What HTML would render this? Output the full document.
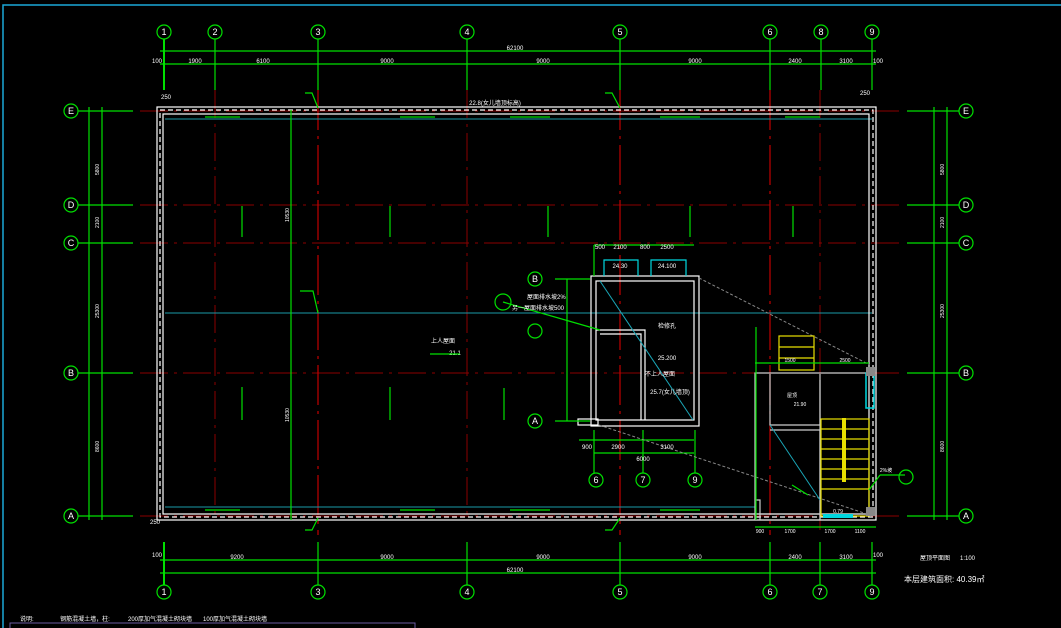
<!DOCTYPE html>
<html><head><meta charset="utf-8"><style>
html,body{margin:0;padding:0;background:#000;width:1061px;height:628px;overflow:hidden}
svg{display:block}
text{font-family:"Liberation Sans","Noto Sans CJK SC",sans-serif;fill:#fff}
</style></head><body>
<svg width="1061" height="628" viewBox="0 0 1061 628" xmlns="http://www.w3.org/2000/svg">
<rect x="0" y="0" width="1061" height="628" fill="#000"/>
<!-- frame -->
<polyline points="3,628 3,5 1061,5" fill="none" stroke="#1aa7d8" stroke-width="1.5"/>
<rect x="10" y="623" width="405" height="8" fill="none" stroke="#6a5aa0" stroke-width="1"/>

<!-- red axis dash lines -->
<g stroke="#8b0000" stroke-width="1" stroke-dasharray="28,6,3,6" fill="none">
<line x1="140" y1="205" x2="900" y2="205"/>
<line x1="140" y1="243" x2="900" y2="243"/>
<line x1="140" y1="373" x2="900" y2="373"/>
<line x1="140" y1="111" x2="900" y2="111"/>
<line x1="140" y1="516" x2="900" y2="516"/>
<line x1="215" y1="90" x2="215" y2="520"/>
<line x1="467" y1="90" x2="467" y2="520"/>
<line x1="820" y1="90" x2="820" y2="530"/>
</g>
<g stroke="#c00000" stroke-width="1.2" stroke-dasharray="40,6,3,6" fill="none">
<line x1="318" y1="90" x2="318" y2="535"/>
<line x1="620" y1="90" x2="620" y2="535"/>
<line x1="770" y1="90" x2="770" y2="535"/>
</g>
<line x1="165" y1="313" x2="872" y2="313" stroke="#1a9aa8" stroke-width="1"/>
<line x1="165" y1="119" x2="872" y2="119" stroke="#1a9aa8" stroke-width="1"/>
<line x1="165" y1="507" x2="755" y2="507" stroke="#1a9aa8" stroke-width="1"/>

<!-- building walls -->
<g fill="none" stroke="#fff" stroke-width="1.2">
<rect x="157" y="107" width="719" height="413"/>
<rect x="163" y="114" width="706" height="400"/>
<rect x="160" y="110" width="713" height="407" stroke-dasharray="5,3"/>
</g>

<!-- green dimension system -->
<g stroke="#00e000" stroke-width="1.2" fill="none">
<line x1="160" y1="51" x2="876" y2="51"/>
<line x1="160" y1="64" x2="876" y2="64"/>
<line x1="160" y1="560" x2="876" y2="560"/>
<line x1="160" y1="573" x2="876" y2="573"/>
<line x1="89" y1="107" x2="89" y2="520"/>
<line x1="102" y1="107" x2="102" y2="520"/>
<line x1="934" y1="107" x2="934" y2="520"/>
<line x1="947" y1="107" x2="947" y2="520"/>
<line x1="291" y1="110" x2="291" y2="520"/>
<!-- column axis stubs top -->
<line x1="164" y1="39" x2="164" y2="90" stroke-width="2"/>
<line x1="215" y1="39" x2="215" y2="90"/>
<line x1="318" y1="39" x2="318" y2="90"/>
<line x1="467" y1="39" x2="467" y2="90"/>
<line x1="620" y1="39" x2="620" y2="90"/>
<line x1="770" y1="39" x2="770" y2="90"/>
<line x1="821" y1="39" x2="821" y2="90"/>
<line x1="872" y1="39" x2="872" y2="90"/>
<!-- bottom -->
<line x1="164" y1="542" x2="164" y2="585" stroke-width="2"/>
<line x1="318" y1="542" x2="318" y2="585"/>
<line x1="467" y1="542" x2="467" y2="585"/>
<line x1="620" y1="542" x2="620" y2="585"/>
<line x1="770" y1="542" x2="770" y2="585"/>
<line x1="820" y1="542" x2="820" y2="585"/>
<line x1="872" y1="542" x2="872" y2="585"/>
<!-- row stubs left/right -->
<line x1="78" y1="111" x2="133" y2="111"/><line x1="78" y1="205" x2="133" y2="205"/>
<line x1="78" y1="243" x2="133" y2="243"/><line x1="78" y1="373" x2="133" y2="373"/>
<line x1="78" y1="516" x2="133" y2="516"/>
<line x1="907" y1="111" x2="959" y2="111"/><line x1="907" y1="205" x2="959" y2="205"/>
<line x1="907" y1="243" x2="959" y2="243"/><line x1="907" y1="373" x2="959" y2="373"/>
<line x1="907" y1="516" x2="959" y2="516"/>
</g>
<!-- bubbles -->
<g fill="#000" stroke="#00e000" stroke-width="1.2">
<circle cx="164" cy="32" r="7"/><circle cx="215" cy="32" r="7"/><circle cx="318" cy="32" r="7"/>
<circle cx="467" cy="32" r="7"/><circle cx="620" cy="32" r="7"/><circle cx="770" cy="32" r="7"/>
<circle cx="821" cy="32" r="7"/><circle cx="872" cy="32" r="7"/>
<circle cx="164" cy="592" r="7"/><circle cx="318" cy="592" r="7"/><circle cx="467" cy="592" r="7"/>
<circle cx="620" cy="592" r="7"/><circle cx="770" cy="592" r="7"/><circle cx="820" cy="592" r="7"/><circle cx="872" cy="592" r="7"/>
<circle cx="71" cy="111" r="7"/><circle cx="71" cy="205" r="7"/><circle cx="71" cy="243" r="7"/>
<circle cx="71" cy="373" r="7"/><circle cx="71" cy="516" r="7"/>
<circle cx="966" cy="111" r="7"/><circle cx="966" cy="205" r="7"/><circle cx="966" cy="243" r="7"/>
<circle cx="966" cy="373" r="7"/><circle cx="966" cy="516" r="7"/>
<circle cx="535" cy="279" r="7"/><circle cx="535" cy="421" r="7"/><circle cx="535" cy="331" r="7"/>
<circle cx="596" cy="480" r="7"/><circle cx="643" cy="480" r="7"/><circle cx="695" cy="480" r="7"/>
<circle cx="503" cy="302" r="8"/><circle cx="906" cy="477" r="7"/>
</g>
<g font-size="9" text-anchor="middle">
<text x="164" y="35">1</text><text x="215" y="35">2</text><text x="318" y="35">3</text><text x="467" y="35">4</text>
<text x="620" y="35">5</text><text x="770" y="35">6</text><text x="821" y="35">8</text><text x="872" y="35">9</text>
<text x="164" y="595">1</text><text x="318" y="595">3</text><text x="467" y="595">4</text><text x="620" y="595">5</text>
<text x="770" y="595">6</text><text x="820" y="595">7</text><text x="872" y="595">9</text>
<text x="71" y="114">E</text><text x="71" y="208">D</text><text x="71" y="246">C</text><text x="71" y="376">B</text><text x="71" y="519">A</text>
<text x="966" y="114">E</text><text x="966" y="208">D</text><text x="966" y="246">C</text><text x="966" y="376">B</text><text x="966" y="519">A</text>
<text x="535" y="282">B</text><text x="535" y="424">A</text>
<text x="596" y="483">6</text><text x="643" y="483">7</text><text x="695" y="483">9</text>
</g>
<g font-size="6" text-anchor="middle">
<text x="515" y="50">62100</text><text x="195" y="63">1900</text><text x="263" y="63">6100</text><text x="387" y="63">9000</text>
<text x="543" y="63">9000</text><text x="695" y="63">9000</text><text x="795" y="63">2400</text><text x="846" y="63">3100</text>
<text x="237" y="559">9200</text><text x="387" y="559">9000</text><text x="543" y="559">9000</text><text x="695" y="559">9000</text>
<text x="795" y="559">2400</text><text x="846" y="559">3100</text><text x="515" y="572">62100</text>
<text x="157" y="63">100</text><text x="157" y="557">100</text><text x="878" y="63">100</text><text x="878" y="557">100</text>
<text x="495" y="105">22.8(女儿墙顶标高)</text>
<text x="155" y="524">250</text><text x="166" y="99">250</text><text x="865" y="95">250</text>
<text x="443" y="343">上人屋面</text><text x="455" y="355">21.1</text>
<text x="920" y="560" text-anchor="start">屋顶平面图</text><text x="960" y="560" text-anchor="start">1:100</text>
<text x="904" y="582" text-anchor="start" font-size="8">本层建筑面积: 40.39㎡</text>
<text x="20" y="621" text-anchor="start">说明:</text><text x="85" y="621">钢筋混凝土墙，柱:</text>
<text x="160" y="621">200厚加气混凝土砌块墙</text><text x="235" y="621">100厚加气混凝土砌块墙</text>
</g>
<g font-size="5" fill="#fff">
<text x="99" y="175" transform="rotate(-90 99 175)">5800</text>
<text x="99" y="228" transform="rotate(-90 99 228)">2100</text>
<text x="99" y="318" transform="rotate(-90 99 318)">25300</text>
<text x="99" y="308" transform="rotate(-90 99 308)"></text>
<text x="944" y="175" transform="rotate(-90 944 175)">5800</text>
<text x="944" y="228" transform="rotate(-90 944 228)">2100</text>
<text x="944" y="318" transform="rotate(-90 944 318)">25300</text>
<text x="99" y="452" transform="rotate(-90 99 452)">8600</text>
<text x="944" y="452" transform="rotate(-90 944 452)">8600</text>
<text x="289" y="222" transform="rotate(-90 289 222)">10530</text>
<text x="289" y="422" transform="rotate(-90 289 422)">10530</text>
</g>

<!-- small green drainage markers -->
<g stroke="#00e000" stroke-width="1.2" fill="none">
<line x1="242" y1="206" x2="242" y2="237"/><line x1="390" y1="206" x2="390" y2="237"/>
<line x1="548" y1="206" x2="548" y2="237"/><line x1="690" y1="206" x2="690" y2="237"/><line x1="793" y1="206" x2="793" y2="237"/>
<line x1="242" y1="387" x2="242" y2="420"/><line x1="390" y1="387" x2="390" y2="420"/><line x1="504" y1="388" x2="504" y2="420"/>
<line x1="205" y1="117" x2="240" y2="117"/><line x1="400" y1="117" x2="435" y2="117"/><line x1="510" y1="117" x2="550" y2="117"/>
<line x1="660" y1="117" x2="700" y2="117"/><line x1="785" y1="117" x2="820" y2="117"/>
<line x1="205" y1="510" x2="240" y2="510"/><line x1="400" y1="510" x2="435" y2="510"/><line x1="510" y1="510" x2="550" y2="510"/>
<line x1="660" y1="510" x2="700" y2="510"/>
<polyline points="300,291 313,291 318,313"/>
<polyline points="305,93 312,93 318,108"/><polyline points="605,93 612,93 620,108"/>
<polyline points="305,530 312,530 318,518"/><polyline points="605,530 612,530 620,518"/>
<line x1="430" y1="354" x2="460" y2="354"/>
</g>

<!-- stair / roof room middle -->
<g fill="none" stroke="#fff" stroke-width="1.2">
<rect x="591" y="276" width="108" height="150"/>
<rect x="596" y="281" width="98" height="139"/>
<polyline points="596,330 645,330 645,420"/>
<polyline points="600,334 641,334 641,420"/>
<rect x="578" y="419" width="20" height="6"/>
</g>
<line x1="600" y1="281" x2="693" y2="420" stroke="#1aa7b8" stroke-width="1"/>
<g stroke="#00e000" stroke-width="1.2" fill="none">
<line x1="594" y1="245" x2="694" y2="245"/><line x1="594" y1="245" x2="594" y2="276"/>
<line x1="590" y1="279" x2="555" y2="279"/><line x1="555" y1="421" x2="590" y2="421"/>
<line x1="567" y1="279" x2="567" y2="421"/>
<line x1="579" y1="440" x2="694" y2="440"/><line x1="594" y1="453" x2="694" y2="453"/>
<line x1="594" y1="430" x2="594" y2="473"/><line x1="643" y1="430" x2="643" y2="473"/><line x1="695" y1="430" x2="695" y2="473"/>
<line x1="503" y1="302" x2="600" y2="330"/>
</g>
<g stroke="#00d8e0" stroke-width="1.2" fill="none">
<polyline points="604,276 604,260 638,260 638,276"/><polyline points="651,276 651,260 686,260 686,276"/>
</g>
<g stroke="#888" stroke-width="1" stroke-dasharray="3,2" fill="none">
<line x1="699" y1="278" x2="870" y2="365"/><line x1="599" y1="425" x2="870" y2="515"/>
</g>
<g font-size="6" text-anchor="middle">
<text x="600" y="249">500</text><text x="620" y="249">2100</text><text x="645" y="249">800</text><text x="667" y="249">2500</text>
<text x="620" y="268">24.30</text><text x="667" y="268">24.100</text>
<text x="667" y="328">检修孔</text><text x="667" y="360">25.200</text><text x="660" y="376">不上人屋面</text>
<text x="670" y="394">25.7(女儿墙顶)</text>
<text x="587" y="449">900</text><text x="618" y="449">2900</text><text x="667" y="449">3100</text><text x="643" y="461">6000</text>
<text x="527" y="299" text-anchor="start">屋面排水坡2%</text><text x="512" y="310" text-anchor="start">另一屋面排水坡500</text>
</g>

<!-- right stair block -->
<g fill="none" stroke="#ccc" stroke-width="1.2">
<polyline points="755,520 755,373 869,373"/>
<polyline points="770,374 770,425 820,425 820,374"/>
<polyline points="770,430 820,430 820,520"/>
<polyline points="756,500 760,500 760,520"/>
<line x1="820" y1="380" x2="820" y2="520"/>
</g>
<g fill="none" stroke="#e8e000" stroke-width="1.2">
<rect x="779" y="336" width="35" height="34"/>
<rect x="821" y="419" width="48" height="97"/>
<line x1="779" y1="347" x2="814" y2="347"/><line x1="779" y1="358" x2="814" y2="358"/>
<line x1="821" y1="429" x2="869" y2="429"/><line x1="821" y1="439" x2="869" y2="439"/><line x1="821" y1="449" x2="869" y2="449"/>
<line x1="821" y1="459" x2="869" y2="459"/><line x1="821" y1="469" x2="869" y2="469"/><line x1="821" y1="479" x2="869" y2="479"/>
<line x1="821" y1="489" x2="869" y2="489"/>
</g>
<rect x="842" y="418" width="4" height="64" fill="#e8e000"/>
<line x1="770" y1="425" x2="820" y2="500" stroke="#1aa7b8" stroke-width="1"/>
<rect x="866" y="373" width="8" height="35" fill="none" stroke="#00d8e0" stroke-width="1.5"/>
<rect x="823" y="514" width="30" height="4" fill="#00d8e0"/>
<rect x="866" y="367" width="9" height="9" fill="#888"/><rect x="866" y="507" width="9" height="9" fill="#888"/>
<g stroke="#00e000" stroke-width="1.2" fill="none">
<line x1="756" y1="327" x2="756" y2="520"/><line x1="755" y1="363" x2="869" y2="363"/>
<line x1="755" y1="527" x2="876" y2="527"/>
<line x1="869" y1="490" x2="880" y2="475"/><line x1="880" y1="475" x2="905" y2="475"/>
<line x1="792" y1="485" x2="808" y2="495"/>
</g>
<g font-size="5" text-anchor="middle">
<text x="790" y="362">1500</text><text x="845" y="362">2500</text>
<text x="792" y="397">屋顶</text><text x="800" y="406">21.90</text>
<text x="760" y="533">900</text><text x="790" y="533">1700</text><text x="830" y="533">1700</text><text x="860" y="533">1100</text>
<text x="838" y="513">0.79</text><text x="886" y="472">2%坡</text>
</g>
</svg>
</body></html>
